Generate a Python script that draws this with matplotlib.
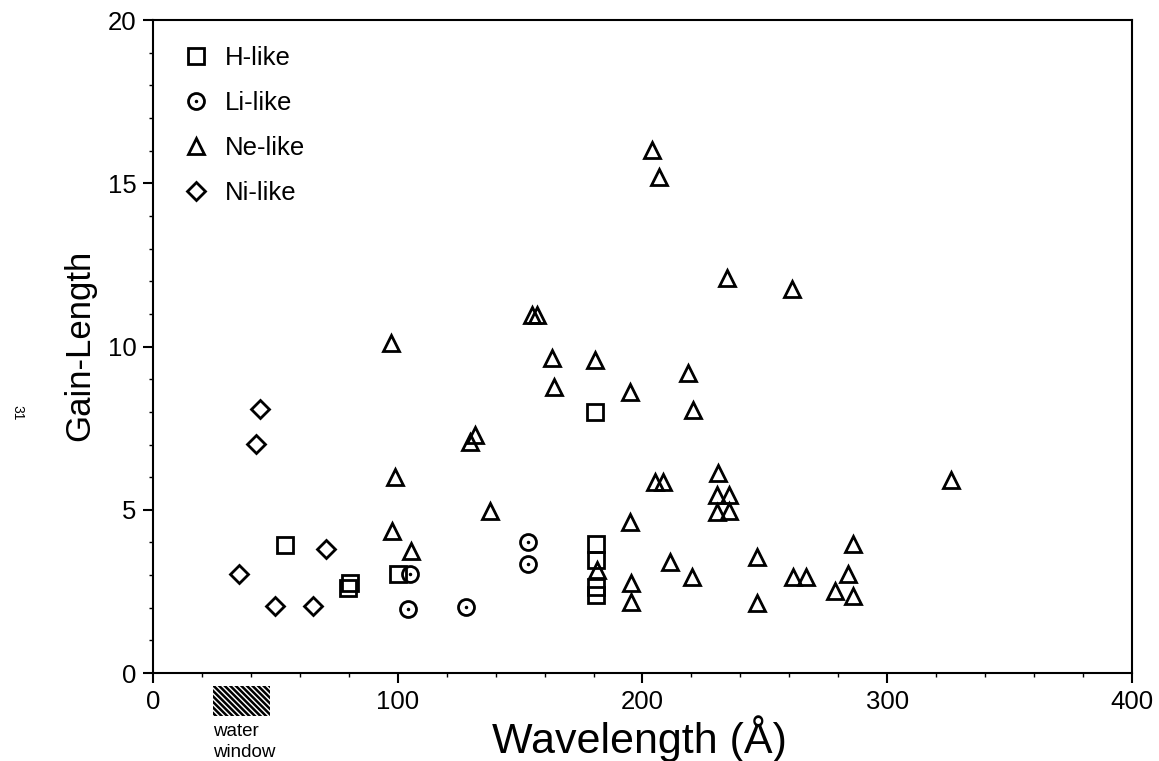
import matplotlib
matplotlib.use('Agg')
import matplotlib.pyplot as plt
from matplotlib.patches import Rectangle
from matplotlib.ticker import MultipleLocator
import matplotlib.transforms as mtransforms

plt.rcParams['font.family'] = ['Liberation Sans', 'DejaVu Sans']
plt.rcParams['hatch.linewidth'] = 1.8

# gain-length products of soft x-ray lasers, by isoelectronic sequence
h_wl = [54.1, 80.3, 79.8, 100.0, 180.6, 181.0, 181.0, 181.0, 181.0]
h_gl = [3.91, 2.75, 2.60, 3.03, 8.00, 3.95, 3.45, 2.65, 2.40]

li_wl = [105.0, 104.0, 128.0, 153.3, 153.3]
li_gl = [3.02, 1.97, 2.01, 4.00, 3.35]

ne_wl = [97.2, 98.9, 97.8, 105.3, 129.5, 131.6, 137.7, 154.7, 156.7, 162.9,
         163.8, 180.6, 181.3, 194.9, 194.9, 195.3, 195.3, 203.7, 206.7, 205.1,
         208.5, 211.2, 218.7, 220.8, 220.1, 231.0, 230.6, 235.5, 230.6, 235.5,
         234.6, 246.9, 246.9, 261.2, 261.6, 266.8, 278.7, 284.1, 285.9, 285.9,
         325.9]
ne_gl = [10.10, 6.01, 4.35, 3.75, 7.09, 7.29, 4.97, 10.96, 10.96, 9.64,
         8.75, 9.59, 3.15, 8.62, 4.63, 2.75, 2.18, 16.02, 15.20, 5.86,
         5.86, 3.41, 9.18, 8.06, 2.95, 6.13, 5.45, 5.45, 4.94, 4.97,
         12.11, 3.56, 2.15, 11.75, 2.95, 2.95, 2.52, 3.03, 3.95, 2.37,
         5.91]

ni_wl = [43.8, 42.2, 35.3, 50.0, 65.4, 70.6]
ni_gl = [8.09, 7.03, 3.02, 2.06, 2.06, 3.81]

water_window = (24.5, 47.8)

fig = plt.figure(figsize=(11.59, 7.61), dpi=100)
ax = fig.add_axes([0.132, 0.1156, 0.8447, 0.858])

mk = dict(linestyle='none', markerfacecolor='none', markeredgecolor='black',
          markeredgewidth=2.0)
sq, = ax.plot(h_wl, h_gl, marker='s', markersize=11, **mk)
ci, = ax.plot(li_wl, li_gl, marker='o', markersize=11.5, **mk)
dot, = ax.plot(li_wl, li_gl, marker='.', markersize=3, color='black', linestyle='none')
tr, = ax.plot(ne_wl, ne_gl, marker='^', markersize=12, **mk)
di, = ax.plot(ni_wl, ni_gl, marker='D', markersize=9, **mk)

ax.set_xlim(0, 400)
ax.set_ylim(0, 20)
ax.xaxis.set_major_locator(MultipleLocator(100))
ax.xaxis.set_minor_locator(MultipleLocator(20))
ax.yaxis.set_major_locator(MultipleLocator(5))
ax.yaxis.set_minor_locator(MultipleLocator(1))
ax.tick_params(which='major', direction='out', length=7, width=1.5,
               labelsize=18.5, pad=5)
ax.tick_params(which='minor', direction='out', length=3, width=1.0)
for s in ax.spines.values():
    s.set_linewidth(1.5)

ax.set_xlabel('Wavelength (Å)', fontsize=31, va='center')
ax.xaxis.set_label_coords(0.497, -0.1010)
ax.set_ylabel('Gain-Length', fontsize=25)
ax.yaxis.set_label_coords(-0.058, 0.502)

ax.legend([sq, (ci, dot), tr, di], ['H-like', 'Li-like', 'Ne-like', 'Ni-like'],
          loc='upper left', bbox_to_anchor=(0.031, 0.96), frameon=False,
          fontsize=18.5, handlelength=1.0, handletextpad=0.6, borderpad=0,
          borderaxespad=0, labelspacing=0.82, numpoints=1)

# shaded band under the axis marking the water window
trans = mtransforms.blended_transform_factory(ax.transData, ax.transAxes)
ax.add_patch(Rectangle((water_window[0], -0.0658), water_window[1] - water_window[0],
                       0.0459, transform=trans, facecolor='none', edgecolor='black',
                       linewidth=0, hatch='\\\\\\\\\\\\', clip_on=False))
ax.text(water_window[0], -0.076, 'water\nwindow', transform=trans, fontsize=13.5,
        ha='left', va='top', linespacing=1.35)

# page number printed sideways in the margin
fig.text(17 / 1159, 1 - 413 / 761, '31', rotation=-90, fontsize=10,
         ha='center', va='center')

fig.savefig('out.png', dpi=100)
